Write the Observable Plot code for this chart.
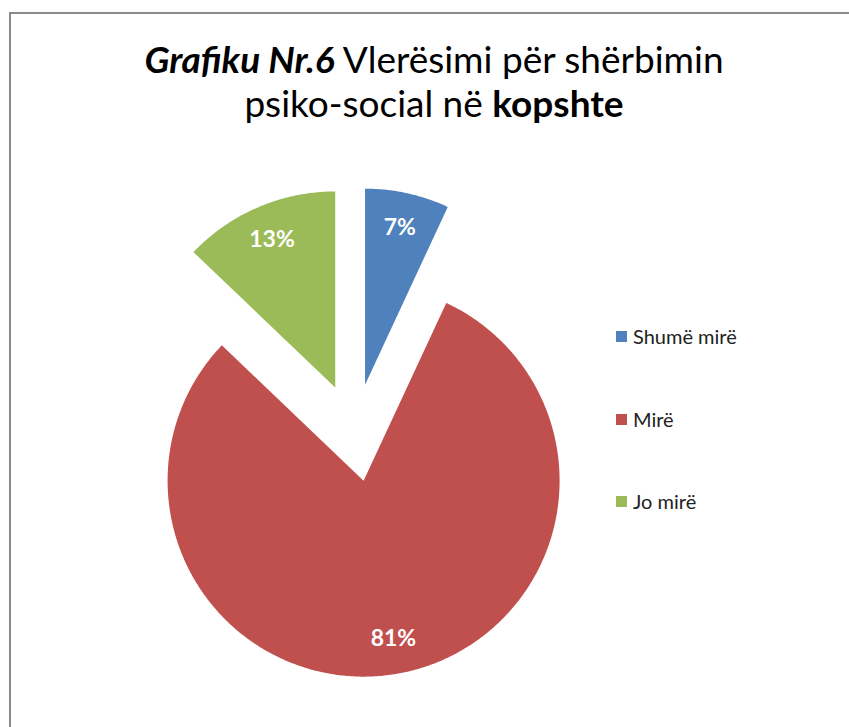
<!DOCTYPE html>
<html>
<head>
<meta charset="utf-8">
<script src="https://cdn.jsdelivr.net/npm/d3@7"></script>
<script src="https://cdn.jsdelivr.net/npm/@observablehq/plot@0.6"></script>
<style>
  html, body { margin: 0; padding: 0; background: #fff; overflow: hidden; }
  body { width: 849px; height: 727px; position: relative; font-family: Lato, "Open Sans", sans-serif; }
  #frame { position: absolute; left: 9px; top: 12px; width: 900px; height: 800px; border: 2px solid #8a8a8a; box-sizing: border-box; }
  #title { position: absolute; left: 0; width: 868px; top: 37px; text-align: center; font-size: 37px; line-height: 44px; color: #000; }
  #chart { position: absolute; left: 0; top: 0; }
  #legend { position: absolute; left: 616px; top: 0; font-size: 20px; color: #222; }
  .item { position: absolute; white-space: nowrap; display: flex; align-items: center; }
  .sw { width: 11px; height: 11px; margin-right: 6px; }
</style>
</head>
<body>
<div id="frame"></div>
<div id="title"><b><i>Grafiku Nr.6</i></b> Vlerësimi për shërbimin<br>psiko-social në <b>kopshte</b></div>
<div id="chart"></div>
<div id="legend"></div>
<script>
// ---- data ----
const categories = ["Shumë mirë", "Mirë", "Jo mirë"];
const values = [7, 81, 13];
const labels = ["7%", "81%", "13%"];
const colors = ["#4F81BD", "#C0504D", "#9BBB59"];

// ---- layout ----
const W = 849, H = 727;
const R = 196;            // pie radius in px
const CX = 354, CY = 432; // pie centre in px
const explode = 0.25;     // explosion as fraction of radius
const labelR = 0.82;

const pie = d3.pie().sort(null).value(d => d.value)(categories.map((c, i) => ({cat: c, value: values[i], label: labels[i]})));

const pts = [];
const labs = [];
pie.forEach(p => {
  const mid = (p.startAngle + p.endAngle) / 2;
  const ox = explode * Math.sin(mid), oy = explode * Math.cos(mid);
  pts.push({cat: p.data.cat, x: ox, y: oy});
  const n = Math.max(2, Math.ceil((p.endAngle - p.startAngle) / 0.01));
  for (let k = 0; k <= n; k++) {
    const a = p.startAngle + (p.endAngle - p.startAngle) * k / n;
    pts.push({cat: p.data.cat, x: ox + Math.sin(a), y: oy + Math.cos(a)});
  }
  pts.push({cat: p.data.cat, x: ox, y: oy});
  labs.push({label: p.data.label, x: ox + labelR * Math.sin(mid), y: oy + labelR * Math.cos(mid)});
});

const chart = Plot.plot({
  width: W, height: H,
  margin: 0,
  x: {domain: [-CX / R, (W - CX) / R], axis: null},
  y: {domain: [-(H - CY) / R, CY / R], axis: null},
  color: {domain: categories, range: colors},
  marks: [
    Plot.line(pts, {x: "x", y: "y", z: "cat", fill: "cat", stroke: "none", curve: "linear"}),
    Plot.text(labs, {x: "x", y: "y", text: "label", fill: "white", fontSize: 23, fontWeight: "bold", fontFamily: "Lato, 'Open Sans', sans-serif"})
  ]
});
chart.style.background = "transparent";
document.getElementById("chart").appendChild(chart);

// legend
const lg = document.getElementById("legend");
const rowY = [337, 420, 502];
categories.forEach((c, i) => {
  const it = document.createElement("div");
  it.className = "item";
  it.style.top = (rowY[i] - 13) + "px";
  it.innerHTML = `<span class="sw" style="background:${colors[i]}"></span><span>${c}</span>`;
  lg.appendChild(it);
});
</script>
</body>
</html>
